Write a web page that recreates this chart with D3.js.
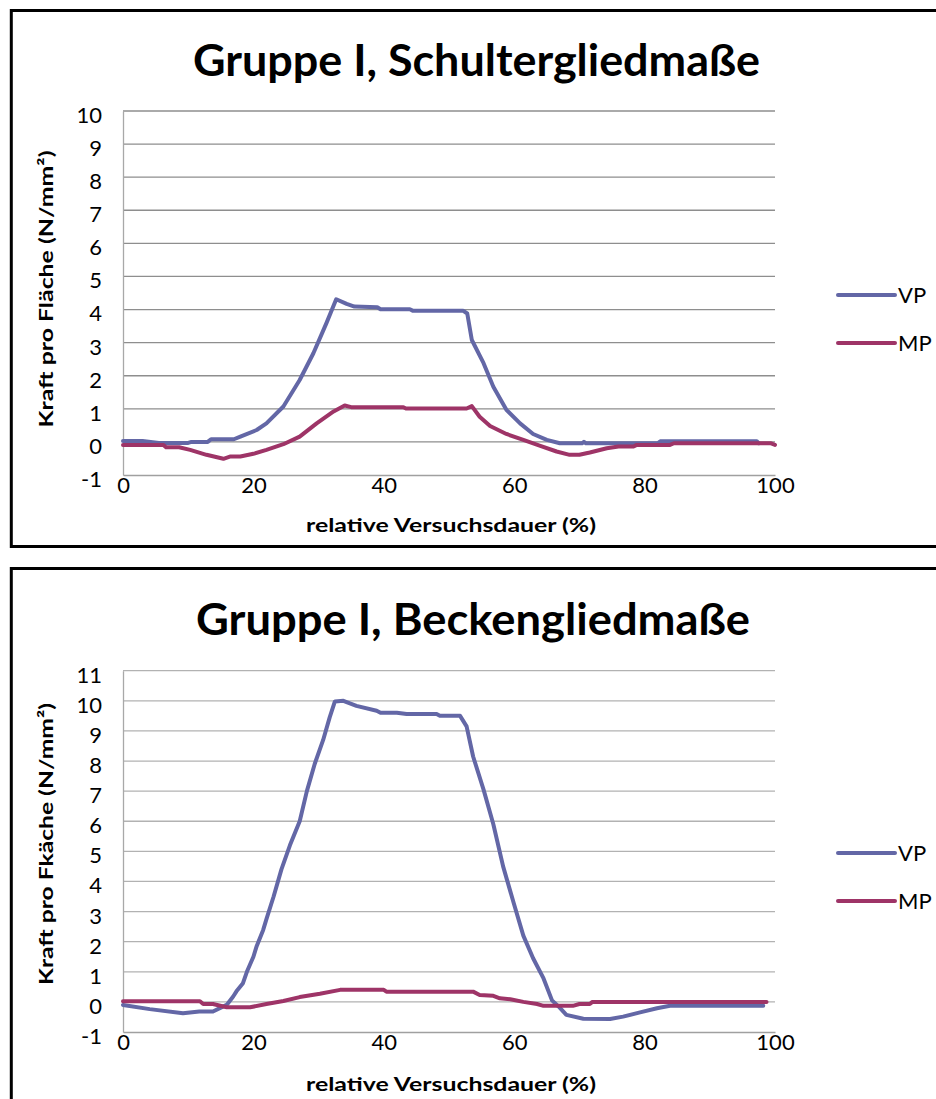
<!DOCTYPE html>
<html>
<head>
<meta charset="utf-8">
<script src="https://cdn.jsdelivr.net/npm/d3@7"></script>
<style>
  html, body { margin: 0; padding: 0; background: #fff; }
  svg { display: block; }
  text { font-family: Lato, Carlito, Calibri, "Open Sans", sans-serif; fill: #000; }
</style>
</head>
<body>
<svg id="chart" width="936" height="1099"></svg>
<script>
// ---- data -------------------------------------------------------------
const seriesNames = ["VP", "MP"];
const xTickValues = [0, 20, 40, 60, 80, 100];
const shoulderYTicks = [-1, 0, 1, 2, 3, 4, 5, 6, 7, 8, 9, 10];
const pelvisYTicks = [-1, 0, 1, 2, 3, 4, 5, 6, 7, 8, 9, 10, 11];

// Schultergliedmaße, [relative Versuchsdauer %, N/mm²]
const shoulderVP = [
  [0, 0.03], [3, 0.03], [5.5, -0.03], [10, -0.03], [10.5, 0.0], [13, 0.0],
  [13.5, 0.08], [17, 0.08], [18, 0.16], [20.5, 0.36], [22, 0.56], [24.6, 1.07],
  [27.1, 1.87], [29.2, 2.68], [31.2, 3.59], [32.7, 4.31], [34.3, 4.17],
  [35.5, 4.09], [39, 4.07], [39.5, 4.01], [44, 4.01], [44.5, 3.96], [52.2, 3.96],
  [52.8, 3.88], [53.5, 3.08], [55.3, 2.38], [56.8, 1.67], [58.8, 0.97],
  [60.9, 0.56], [62.9, 0.24], [65, 0.06], [67, -0.04], [70.4, -0.04],
  [70.7, 0.0], [71, -0.04], [82, -0.04], [82.4, 0.02], [97.2, 0.02], [97.5, -0.04]
];
const shoulderMP = [
  [0, -0.09], [6.2, -0.09], [6.6, -0.16], [8.6, -0.16], [10.3, -0.24],
  [12.8, -0.39], [15.4, -0.51], [16.5, -0.44], [18, -0.44], [20, -0.36],
  [22, -0.24], [24.6, -0.07], [27.1, 0.16], [29.7, 0.56], [32.3, 0.92],
  [34, 1.1], [35, 1.05], [43, 1.05], [43.4, 1.01], [52.7, 1.01], [53.5, 1.08],
  [54.7, 0.76], [56.3, 0.48], [58.8, 0.24], [61.4, 0.06], [64, -0.12],
  [66.5, -0.29], [68.5, -0.39], [70, -0.39], [71.6, -0.32], [74.2, -0.19],
  [76, -0.14], [78.3, -0.14], [78.8, -0.09], [83.9, -0.09], [84.5, -0.04],
  [99.3, -0.04], [100, -0.09]
];

// Beckengliedmaße, [relative Versuchsdauer %, N/mm²]
const pelvisVP = [
  [0, -0.1], [4.1, -0.24], [9.2, -0.38], [11.7, -0.32], [13.8, -0.32],
  [15.4, -0.15], [15.9, -0.1], [16.9, 0.18], [17.4, 0.35], [18.4, 0.62],
  [19, 1.0], [20, 1.5], [20.5, 1.85], [21.5, 2.39], [22, 2.75], [23.1, 3.5],
  [24.3, 4.4], [25.6, 5.2], [27.1, 6.0], [28.2, 7.0], [29.4, 7.9], [30.7, 8.7],
  [31.7, 9.45], [32.5, 9.98], [33.8, 10.0], [35.8, 9.83], [38.9, 9.67],
  [39.5, 9.6], [42, 9.6], [43.5, 9.56], [48.1, 9.56], [48.6, 9.5], [51.7, 9.5],
  [52.7, 9.15], [53.7, 8.15], [55.3, 7.05], [56.8, 5.9], [58.3, 4.5],
  [59.9, 3.3], [61.4, 2.2], [62.9, 1.45], [64.5, 0.78], [65.8, 0.05],
  [66.8, -0.15], [68, -0.43], [70.6, -0.56], [74.7, -0.57], [76.7, -0.49],
  [79.3, -0.35], [81.9, -0.21], [83.9, -0.13], [98.2, -0.13]
];
const pelvisMP = [
  [0, 0.02], [11.8, 0.02], [12.3, -0.07], [13.8, -0.07], [15.9, -0.18],
  [19.5, -0.18], [22, -0.07], [24.6, 0.03], [27.1, 0.16], [30.2, 0.27],
  [33.3, 0.4], [40, 0.4], [40.4, 0.34], [53.7, 0.34], [54.7, 0.23],
  [56.8, 0.2], [57.8, 0.12], [59.4, 0.09], [61.4, 0.0], [63.5, -0.07],
  [64.5, -0.13], [69, -0.13], [70, -0.07], [71.6, -0.07], [72, 0.0], [98.7, 0.0]
];

const seriesColors = ["#6367A6", "#9E3467"];

// ---- drawing ----------------------------------------------------------
const svg = d3.select("#chart");
const plainNumber = d => String(d);   // keeps the ASCII hyphen on "-1"

function drawChart(opt) {
  const g = svg.append("g");
  const x = d3.scaleLinear().domain([0, 100]).range([123, 775]);
  const y = d3.scaleLinear().domain([-1, opt.yMax]).range([opt.plotBottom, opt.plotTop]);

  // frame
  g.append("rect")
    .attr("x", 11.3).attr("y", opt.frameTop)
    .attr("width", 960).attr("height", opt.frameHeight)
    .attr("fill", "none").attr("stroke", "#000").attr("stroke-width", 3);

  // title
  g.append("text")
    .attr("x", opt.titleX).attr("y", opt.titleY)
    .attr("text-anchor", "middle")
    .attr("font-size", 43).attr("font-weight", 700)
    .attr("textLength", opt.titleLen).attr("lengthAdjust", "spacingAndGlyphs")
    .text(opt.title);

  // horizontal gridlines
  g.append("g").selectAll("line")
    .data(opt.yTicks.filter(v => v > -1))
    .join("line")
    .attr("x1", x(0)).attr("x2", x(100))
    .attr("y1", d => y(d)).attr("y2", d => y(d))
    .attr("stroke", opt.gridColor).attr("stroke-width", 1.3);

  // y axis
  const yAxis = g.append("g")
    .attr("transform", `translate(${x(0)},0)`)
    .call(d3.axisLeft(y).tickValues(opt.yTicks).tickFormat(plainNumber)
      .tickSize(0).tickSizeOuter(0).tickPadding(21));
  yAxis.select(".domain").attr("stroke", "#a8a8a8").attr("stroke-width", 1.3);
  yAxis.selectAll("text")
    .attr("font-size", 22).attr("dy", "0.52em")
    .style("font-family", "Lato, Carlito, Calibri, sans-serif");

  // x axis at the -1 baseline
  const xAxis = g.append("g")
    .attr("transform", `translate(0,${y(-1)})`)
    .call(d3.axisBottom(x).tickValues(xTickValues).tickFormat(plainNumber)
      .tickSize(0).tickSizeOuter(0).tickPadding(2));
  xAxis.select(".domain").attr("stroke", "#a0a0a0").attr("stroke-width", 1.3);
  xAxis.selectAll("text")
    .attr("font-size", 22)
    .style("font-family", "Lato, Carlito, Calibri, sans-serif");

  // axis titles
  g.append("text")
    .attr("transform", `translate(53,${opt.yTitleY}) rotate(-90)`)
    .attr("text-anchor", "middle")
    .attr("font-size", 19.5).attr("font-weight", 700)
    .attr("textLength", opt.yTitleLen).attr("lengthAdjust", "spacingAndGlyphs")
    .text(opt.yTitle);

  g.append("text")
    .attr("x", 451).attr("y", opt.xTitleY)
    .attr("text-anchor", "middle")
    .attr("font-size", 19.5).attr("font-weight", 700)
    .attr("textLength", 290).attr("lengthAdjust", "spacingAndGlyphs")
    .text("relative Versuchsdauer (%)");

  // series lines
  const line = d3.line().x(d => x(d[0])).y(d => y(d[1]));
  opt.series.forEach((s, i) => {
    g.append("path")
      .datum(s)
      .attr("d", line)
      .attr("fill", "none")
      .attr("stroke", seriesColors[i])
      .attr("stroke-width", 4)
      .attr("stroke-linejoin", "round")
      .attr("stroke-linecap", "round");
  });

  // legend
  const leg = g.append("g").selectAll("g")
    .data(seriesNames)
    .join("g")
    .attr("transform", (d, i) => `translate(838,${opt.legendY + i * 48})`);
  leg.append("line")
    .attr("x1", 0).attr("x2", 57).attr("y1", 0).attr("y2", 0)
    .attr("stroke", (d, i) => seriesColors[i]).attr("stroke-width", 4)
    .attr("stroke-linecap", "round");
  leg.append("text")
    .attr("x", 60).attr("y", 7.5)
    .attr("font-size", 22)
    .text(d => d);
}

drawChart({
  title: "Gruppe I, Schultergliedmaße",
  titleX: 476.5, titleY: 76, titleLen: 567,
  frameTop: 10.5, frameHeight: 536,
  plotTop: 111, plotBottom: 475, yMax: 10,
  yTicks: shoulderYTicks,
  gridColor: "#8e8e8e",
  yTitle: "Kraft pro Fläche (N/mm²)", yTitleY: 289, yTitleLen: 277,
  xTitleY: 532,
  legendY: 295,
  series: [shoulderVP, shoulderMP]
});

drawChart({
  title: "Gruppe I, Beckengliedmaße",
  titleX: 473, titleY: 635, titleLen: 554,
  frameTop: 568.5, frameHeight: 600,
  plotTop: 670.7, plotBottom: 1032, yMax: 11,
  yTicks: pelvisYTicks,
  gridColor: "#b2b2b2",
  yTitle: "Kraft pro Fkäche (N/mm²)", yTitleY: 844, yTitleLen: 282,
  xTitleY: 1091,
  legendY: 853,
  series: [pelvisVP, pelvisMP]
});
</script>
</body>
</html>
